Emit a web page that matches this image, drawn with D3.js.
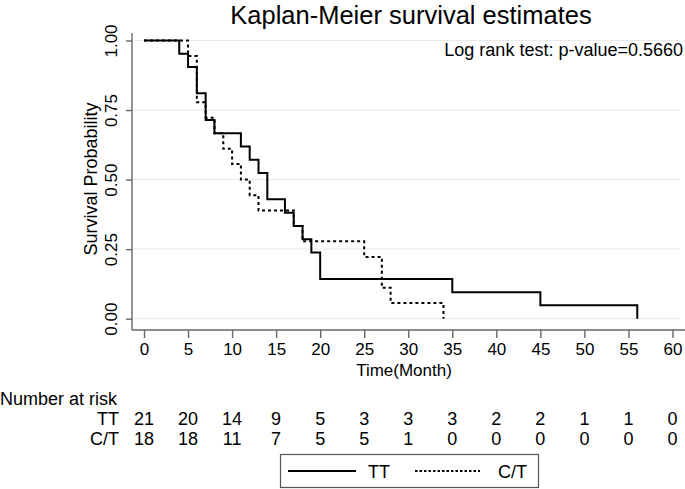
<!DOCTYPE html>
<html>
<head>
<meta charset="utf-8">
<script src="https://cdn.jsdelivr.net/npm/d3@7"></script>
<style>
  body { margin: 0; background: #fff; }
  text { font-family: "Liberation Sans", Arial, sans-serif; fill: #000; }
</style>
</head>
<body>
<div id="chart"></div>
<script>
// survival curves (step after)
var timesTT = [0, 4, 5, 6, 7, 8, 11, 12, 13, 14, 16, 17, 18, 19, 20, 35, 45, 56];
var survTT = [1.000, 0.952, 0.905, 0.810, 0.714, 0.667, 0.619, 0.571, 0.524, 0.429,
  0.381, 0.333, 0.286, 0.238, 0.143, 0.095, 0.048, 0.000];

var timesCT = [0, 5, 6, 7, 8, 9, 10, 11, 12, 13, 17, 18, 25, 27, 28, 34];
var survCT = [1.000, 0.944, 0.778, 0.722, 0.667, 0.611, 0.556, 0.500, 0.444, 0.389,
  0.333, 0.278, 0.222, 0.111, 0.056, 0.000];

// axes
var xTicks = [0, 5, 10, 15, 20, 25, 30, 35, 40, 45, 50, 55, 60];
var yTicks = [0, 0.25, 0.5, 0.75, 1];

// number at risk table
var groups = ["TT", "C/T"];
var riskTT = [21, 20, 14, 9, 5, 3, 3, 3, 2, 2, 1, 1, 0];
var riskCT = [18, 18, 11, 7, 5, 5, 1, 0, 0, 0, 0, 0, 0];

var width = 685, height = 489;

var svg = d3.select("#chart").append("svg")
  .attr("width", width)
  .attr("height", height);

svg.append("rect").attr("width", width).attr("height", height).attr("fill", "#fff");

var x = d3.scaleLinear().domain([0, 60]).range([144, 672.5]);
var y = d3.scaleLinear().domain([0, 1]).range([318.7, 40.5]);

var axisX = 132, axisY = 330;

// title
svg.append("text")
  .attr("x", 411).attr("y", 24)
  .attr("text-anchor", "middle")
  .style("font-size", "25.5px")
  .text("Kaplan-Meier survival estimates");

// grid lines
svg.append("g").selectAll("line")
  .data(yTicks)
  .enter().append("line")
  .attr("x1", axisX).attr("x2", 680)
  .attr("y1", function (d) { return y(d); })
  .attr("y2", function (d) { return y(d); })
  .attr("stroke", "#eaeaea")
  .attr("stroke-width", 1.2);

// y axis, labels turned on their side
var gy = svg.append("g")
  .attr("transform", "translate(" + axisX + ",0)")
  .call(d3.axisLeft(y).tickValues(yTicks).tickSize(6).tickFormat(d3.format(".2f")));
gy.select(".domain").attr("d", "M0,33V" + axisY);
gy.selectAll("line, .domain").attr("stroke", "#666").attr("stroke-width", 1.4);
gy.selectAll("text")
  .attr("transform", "translate(-15,0) rotate(-90)")
  .attr("x", 0).attr("y", 0).attr("dy", 0)
  .attr("text-anchor", "middle")
  .style("font-size", "17px")
  .style("font-family", "Liberation Sans, Arial, sans-serif")
  .attr("fill", "#000");

// x axis
var gx = svg.append("g")
  .attr("transform", "translate(0," + axisY + ")")
  .call(d3.axisBottom(x).tickValues(xTicks).tickSize(8).tickPadding(5));
gx.select(".domain").attr("d", "M" + axisX + ",0H685");
gx.selectAll("line, .domain").attr("stroke", "#666").attr("stroke-width", 1.4);
gx.selectAll("text")
  .style("font-size", "17px")
  .style("font-family", "Liberation Sans, Arial, sans-serif")
  .attr("fill", "#000");

// axis titles
svg.append("text")
  .attr("transform", "translate(97,179) rotate(-90)")
  .attr("text-anchor", "middle")
  .style("font-size", "18px")
  .text("Survival Probability");

svg.append("text")
  .attr("x", 404).attr("y", 376)
  .attr("text-anchor", "middle")
  .style("font-size", "17px")
  .text("Time(Month)");

// log rank note
svg.append("text")
  .attr("x", 683).attr("y", 56)
  .attr("text-anchor", "end")
  .style("font-size", "18px")
  .text("Log rank test: p-value=0.5660");

// curves
var line = d3.line()
  .x(function (d) { return x(d[0]); })
  .y(function (d) { return y(d[1]); })
  .curve(d3.curveStepAfter);

svg.append("path")
  .datum(d3.zip(timesTT, survTT))
  .attr("d", line)
  .attr("fill", "none")
  .attr("stroke", "#000")
  .attr("stroke-width", 2);

svg.append("path")
  .datum(d3.zip(timesCT, survCT))
  .attr("d", line)
  .attr("fill", "none")
  .attr("stroke", "#000")
  .attr("stroke-width", 2)
  .attr("stroke-dasharray", "3,3");

// number at risk
svg.append("text")
  .attr("x", 0).attr("y", 405)
  .style("font-size", "18px")
  .text("Number at risk");

var riskRows = [riskTT, riskCT];
riskRows.forEach(function (row, i) {
  var yy = 425 + i * 20;
  svg.append("text")
    .attr("x", 119).attr("y", yy)
    .attr("text-anchor", "end")
    .style("font-size", "18px")
    .text(groups[i]);
  svg.append("g").selectAll("text")
    .data(row)
    .enter().append("text")
    .attr("x", function (d, j) { return x(xTicks[j]); })
    .attr("y", yy)
    .attr("text-anchor", "middle")
    .style("font-size", "18px")
    .text(function (d) { return d; });
});

// legend
var lg = svg.append("g");
lg.append("rect")
  .attr("x", 280.5).attr("y", 454.5)
  .attr("width", 258).attr("height", 33)
  .attr("fill", "#fff")
  .attr("stroke", "#555")
  .attr("stroke-width", 1.2);
lg.append("line")
  .attr("x1", 288).attr("x2", 356).attr("y1", 471).attr("y2", 471)
  .attr("stroke", "#000").attr("stroke-width", 1.8);
lg.append("text")
  .attr("x", 368).attr("y", 478)
  .style("font-size", "18px")
  .text(groups[0]);
lg.append("line")
  .attr("x1", 415).attr("x2", 480).attr("y1", 471).attr("y2", 471)
  .attr("stroke", "#000").attr("stroke-width", 1.8)
  .attr("stroke-dasharray", "2.5,2");
lg.append("text")
  .attr("x", 498).attr("y", 478)
  .style("font-size", "18px")
  .text(groups[1]);
</script>
</body>
</html>
